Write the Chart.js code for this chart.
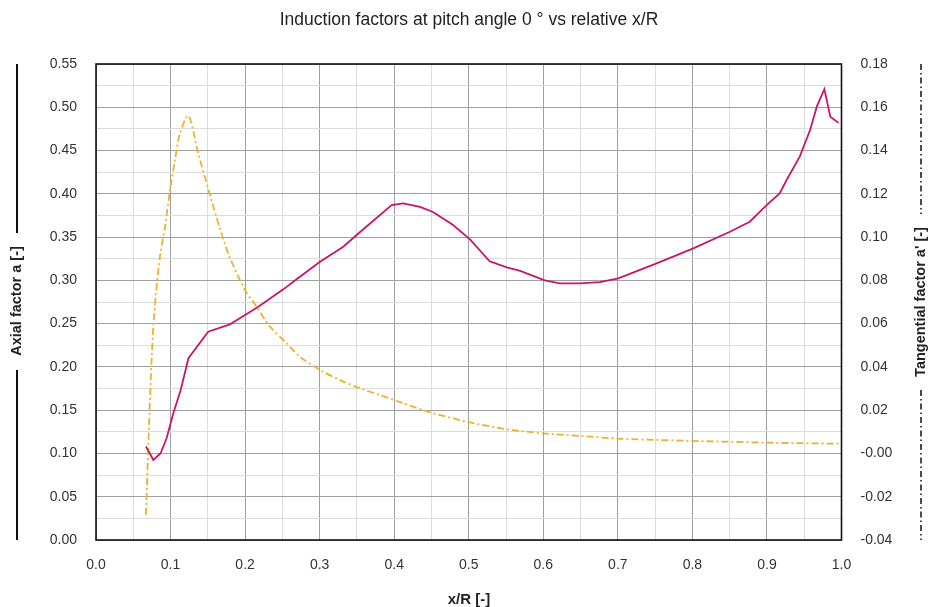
<!DOCTYPE html>
<html>
<head>
<meta charset="utf-8">
<script src="https://cdn.jsdelivr.net/npm/chart.js@4/dist/chart.umd.min.js"></script>
<style>
body{margin:0;background:#fff;}
#wrap{width:930px;height:607px;position:relative;}
</style>
</head>
<body>
<div id="wrap"><canvas id="chart"></canvas></div>
<script>
// ================= DATA =================
let xAxial=[0.067,0.077,0.0867,0.0947,0.1037,0.1136,0.124,0.1505,0.1797,0.2,0.2177,0.2513,0.269,0.3005,0.3317,0.3496,0.3966,0.412,0.4346,0.452,0.479,0.502,0.528,0.551,0.569,0.602,0.622,0.649,0.676,0.7006,0.752,0.8012,0.8504,0.877,0.8996,0.917,0.9264,0.944,0.958,0.967,0.977,0.985,0.996];
let axialA=[0.108,0.0924,0.1002,0.1175,0.1464,0.1733,0.21,0.2407,0.2492,0.26,0.2696,0.2896,0.3012,0.3216,0.3389,0.3524,0.387,0.389,0.385,0.379,0.364,0.347,0.322,0.315,0.311,0.300,0.2966,0.2966,0.298,0.3023,0.3197,0.337,0.3562,0.3678,0.387,0.4005,0.416,0.443,0.474,0.501,0.521,0.489,0.482];

let xTang=[0.067,0.0733,0.0778,0.0858,0.0926,0.0993,0.106,0.1127,0.124,0.137,0.151,0.1655,0.179,0.1999,0.2155,0.2334,0.2558,0.2736,0.3005,0.3273,0.3541,0.381,0.4078,0.4525,0.4972,0.5509,0.6001,0.6492,0.7029,0.7565,0.837,0.9,0.996];
let tangA=[-0.0284,0.0324,0.0632,0.091,0.1048,0.1218,0.1356,0.148,0.156,0.1388,0.1218,0.1048,0.091,0.0755,0.0678,0.0586,0.0509,0.0447,0.0386,0.0339,0.0301,0.027,0.0237,0.0186,0.0147,0.0112,0.0093,0.0081,0.0068,0.0062,0.0055,0.005,0.0045];

let titleText="Induction factors at pitch angle 0 ° vs relative x/R";
let xTitle="x/R [-]";
let leftTitle="Axial factor a [-]";
let rightTitle="Tangential factor a' [-]";

let FONT="'Liberation Sans', Arial, sans-serif";
let MAJOR="#a0a0a0", MINOR="#dcdcdc";

function isMult(v,step){
let r=v/step;
return Math.abs(r-Math.round(r))<1e-6;
}

// ================= DECORATION PLUGIN =================
let deco={
id:"deco",
afterDraw(chart){
let c=chart.ctx, a=chart.chartArea;
c.save();

// plot border
c.strokeStyle="#111";
c.lineWidth=1.6;
c.strokeRect(a.left,a.top,a.right-a.left,a.bottom-a.top);

// title
c.fillStyle="#222";
c.font="17.5px "+FONT;
c.textAlign="center";
c.textBaseline="middle";
c.fillText(titleText,469,20);

// x title
c.font="bold 15px "+FONT;
c.fillText(xTitle,469,600);

// left title + solid line sample
c.font="bold 14.5px "+FONT;
c.save();
c.translate(17,301);
c.rotate(-Math.PI/2);
c.fillText(leftTitle,0,0);
c.restore();
c.strokeStyle="#111";
c.lineWidth=2;
c.beginPath();
c.moveTo(17,a.top);c.lineTo(17,233);
c.moveTo(17,370);c.lineTo(17,a.bottom);
c.stroke();

// right title + dash-dot line sample
c.save();
c.translate(921,302);
c.rotate(-Math.PI/2);
c.fillText(rightTitle,0,0);
c.restore();
c.lineWidth=1.5;
c.setLineDash([6,3,1.5,3]);
c.beginPath();
c.moveTo(921,a.top);c.lineTo(921,214);
c.moveTo(921,390);c.lineTo(921,a.bottom);
c.stroke();

c.restore();
}
};

// ================= CHART =================
let ctx=document.getElementById("chart").getContext("2d");
let chart=new Chart(ctx,{
type:"scatter",
data:{
datasets:[{
label:"Axial factor a",
data:xAxial.map((x,i)=>({x:x,y:axialA[i]})),
showLine:true,
borderColor:"#c8166a",
borderWidth:1.8,
pointRadius:0,
tension:0,
yAxisID:"y"
},{
label:"Tangential factor a'",
data:xTang.map((x,i)=>({x:x,y:tangA[i]})),
showLine:true,
borderColor:"#f0b02c",
borderWidth:1.8,
borderDash:[7,3,2,3],
pointRadius:0,
tension:0.3,
yAxisID:"y2"
}]
},
options:{
responsive:true,
maintainAspectRatio:false,
animation:false,
layout:{padding:{top:64,left:0,right:0,bottom:0}},
plugins:{legend:{display:false},tooltip:{enabled:false}},
scales:{
x:{
type:"linear",min:0,max:1,
border:{display:false},
grid:{drawTicks:false,lineWidth:1,color:c=>isMult(c.tick.value,0.1)?MAJOR:MINOR},
ticks:{stepSize:0.05,padding:17,color:"#333",font:{family:FONT,size:14},
callback:v=>isMult(v,0.1)?v.toFixed(1):""},
afterFit:s=>{s.height=67;}
},
y:{
position:"left",min:0,max:0.55,
border:{display:false},
grid:{drawTicks:false,lineWidth:1,color:c=>isMult(c.tick.value,0.05)?MAJOR:MINOR},
ticks:{stepSize:0.025,padding:19,color:"#333",font:{family:FONT,size:14},
callback:v=>isMult(v,0.05)?v.toFixed(2):""},
afterFit:s=>{s.width=96;}
},
y2:{
position:"right",min:-0.04,max:0.18,
border:{display:false},
grid:{drawOnChartArea:false,drawTicks:false},
ticks:{stepSize:0.02,padding:19,color:"#333",font:{family:FONT,size:14},
callback:v=>Math.abs(v)<1e-9?"-0.00":v.toFixed(2)},
afterFit:s=>{s.width=88.5;}
}
}
},
plugins:[deco]
});
</script>
</body>
</html>
